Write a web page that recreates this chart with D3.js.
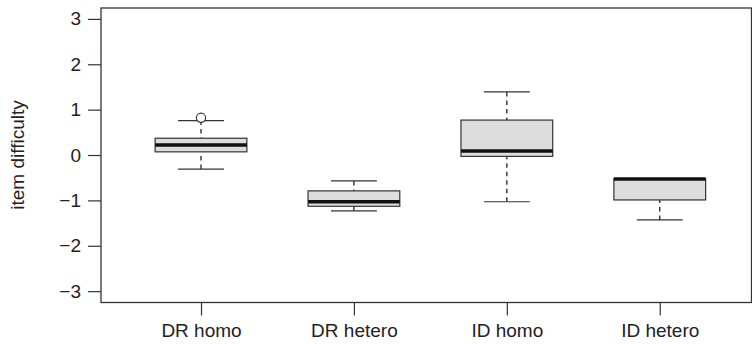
<!DOCTYPE html>
<html>
<head>
<meta charset="utf-8">
<script src="https://cdn.jsdelivr.net/npm/d3@7"></script>
<style>
  body { margin: 0; background: #fff; }
  svg text { font-family: "Liberation Sans", Arial, sans-serif; fill: #222; }
</style>
</head>
<body>
<div class="chart"></div>
<script>
// values
const categories = ["DR homo", "DR hetero", "ID homo", "ID hetero"];
const lowerWhisker = [-0.31, -1.23, -1.03, -1.43];
const lowerQuartile = [0.07, -1.13, -0.03, -0.99];
const medians = [0.22, -1.03, 0.09, -0.53];
const upperQuartile = [0.37, -0.79, 0.77, -0.52];
const upperWhisker = [0.76, -0.57, 1.39, -0.52];
const outliers = [[0.82], [], [], []];
const yTicks = [-3, -2, -1, 0, 1, 2, 3];

const width = 752, height = 344;
const plot = {left: 101, right: 751.5, top: 8, bottom: 302.5};

const svg = d3.select(".chart").append("svg")
  .attr("width", width)
  .attr("height", height);

const x = d3.scaleLinear()
  .domain([0.346, 4.6])
  .range([plot.left, plot.right]);

const y = d3.scaleLinear()
  .domain([-3.25, 3.24])
  .range([plot.bottom, plot.top]);

const boxHalf = 0.3, capHalf = 0.15;

const data = categories.map((c, i) => ({
  name: c, pos: i + 1,
  lo: lowerWhisker[i], q1: lowerQuartile[i], med: medians[i],
  q3: upperQuartile[i], hi: upperWhisker[i], out: outliers[i]
}));

// axes
const yAxis = d3.axisLeft(y)
  .tickValues(yTicks)
  .tickSize(13)
  .tickPadding(7)
  .tickFormat(d3.format("d"));

svg.append("g")
  .attr("transform", "translate(" + plot.left + ",0)")
  .call(yAxis)
  .call(g => g.select(".domain").remove())
  .call(g => g.selectAll("line").attr("stroke", "#333").attr("stroke-width", 1.2))
  .call(g => g.selectAll("text").attr("font-size", 19).attr("fill", "#222"));

const xAxis = d3.axisBottom(x)
  .tickValues([1, 2, 3, 4])
  .tickSize(13)
  .tickPadding(8)
  .tickFormat(d => categories[d - 1]);

svg.append("g")
  .attr("transform", "translate(0," + plot.bottom + ")")
  .call(xAxis)
  .call(g => g.select(".domain").remove())
  .call(g => g.selectAll("line").attr("stroke", "#333").attr("stroke-width", 1.2))
  .call(g => g.selectAll("text").attr("font-size", 19).attr("fill", "#222"));

svg.append("text")
  .attr("transform", "translate(17," + y(0) + ") rotate(-90)")
  .attr("text-anchor", "middle")
  .attr("dy", "0.35em")
  .attr("font-size", 19)
  .text("item difficulty");

// boxes
const box = svg.selectAll(".box")
  .data(data)
  .enter()
  .append("g")
  .attr("class", "box");

// whiskers, drawn from the whisker end toward the box
box.append("line")
  .attr("x1", d => x(d.pos)).attr("x2", d => x(d.pos))
  .attr("y1", d => y(d.lo)).attr("y2", d => y(d.q1))
  .attr("stroke", "#222").attr("stroke-width", 1.3)
  .attr("stroke-dasharray", "4.5,4");

box.filter(d => d.hi > d.q3).append("line")
  .attr("x1", d => x(d.pos)).attr("x2", d => x(d.pos))
  .attr("y1", d => y(d.hi)).attr("y2", d => y(d.q3))
  .attr("stroke", "#222").attr("stroke-width", 1.3)
  .attr("stroke-dasharray", "4.5,4");

box.append("line")
  .attr("x1", d => x(d.pos - capHalf)).attr("x2", d => x(d.pos + capHalf))
  .attr("y1", d => y(d.lo)).attr("y2", d => y(d.lo))
  .attr("stroke", "#333").attr("stroke-width", 1.2);

box.filter(d => d.hi > d.q3).append("line")
  .attr("x1", d => x(d.pos - capHalf)).attr("x2", d => x(d.pos + capHalf))
  .attr("y1", d => y(d.hi)).attr("y2", d => y(d.hi))
  .attr("stroke", "#333").attr("stroke-width", 1.2);

box.append("rect")
  .attr("x", d => x(d.pos - boxHalf))
  .attr("width", d => x(d.pos + boxHalf) - x(d.pos - boxHalf))
  .attr("y", d => y(d.q3))
  .attr("height", d => y(d.q1) - y(d.q3))
  .attr("fill", "#dcdddc")
  .attr("stroke", "#333")
  .attr("stroke-width", 1.2);

box.append("line")
  .attr("x1", d => x(d.pos - boxHalf)).attr("x2", d => x(d.pos + boxHalf))
  .attr("y1", d => y(d.med)).attr("y2", d => y(d.med))
  .attr("stroke", "#111").attr("stroke-width", 3.5);

box.selectAll(".outlier")
  .data(d => d.out.map(v => ({pos: d.pos, v: v})))
  .enter()
  .append("circle")
  .attr("cx", d => x(d.pos))
  .attr("cy", d => y(d.v))
  .attr("r", 4.6)
  .attr("fill", "#fff")
  .attr("stroke", "#333")
  .attr("stroke-width", 1.2);

// frame
svg.append("rect")
  .attr("x", plot.left)
  .attr("y", plot.top)
  .attr("width", plot.right - plot.left)
  .attr("height", plot.bottom - plot.top)
  .attr("fill", "none")
  .attr("stroke", "#333")
  .attr("stroke-width", 1.3);
</script>
</body>
</html>
